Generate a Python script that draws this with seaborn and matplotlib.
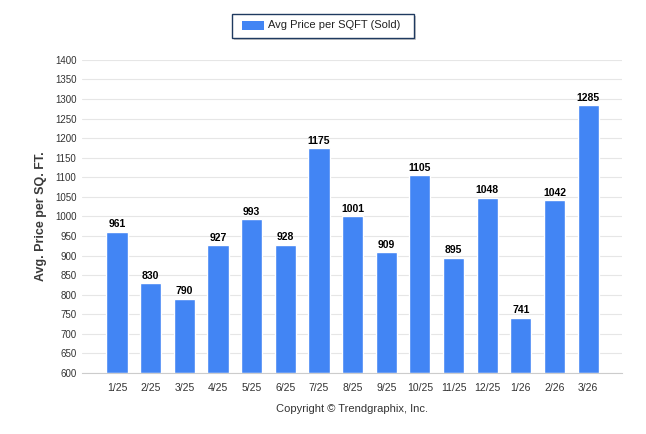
import matplotlib
matplotlib.use("Agg")
import matplotlib.pyplot as plt
import seaborn as sns
import pandas as pd
from matplotlib.patches import Rectangle

months = ["1/25", "2/25", "3/25", "4/25", "5/25", "6/25", "7/25", "8/25",
          "9/25", "10/25", "11/25", "12/25", "1/26", "2/26", "3/26"]
avg_price = [961, 830, 790, 927, 993, 928, 1175, 1001, 909, 1105, 895, 1048, 741, 1042, 1285]
y_ticks = list(range(600, 1401, 50))
series_name = "Avg Price per SQFT (Sold)"

sns.set_theme(style="white")
plt.rcParams['font.family'] = ['Liberation Sans', 'DejaVu Sans']

df = pd.DataFrame({"Month": months, "Price": avg_price})
base = 600

fig = plt.figure(figsize=(6.46, 4.34), dpi=100)
ax = fig.add_axes([0.127, 0.1406, 0.836, 0.7214])

sns.barplot(data=df, x="Month", y=[p - base for p in avg_price], color="#4285F4",
            width=0.63, saturation=1, ax=ax, bottom=base)

ax.set_ylim(600, 1400)
ax.set_xlim(-1.04, 15.01)
ax.set_yticks(y_ticks)
ax.set_yticklabels([str(t) for t in y_ticks], fontsize=7, color="#333333")
ax.tick_params(axis="x", labelsize=7.5, colors="#333333", length=4, color="#cccccc", width=0.8)
ax.tick_params(axis="y", length=0, pad=4)
ax.set_xticks(range(len(months)))
ax.set_xticklabels(months)
ax.yaxis.grid(True, color="#e6e6e6", linewidth=0.8)
ax.set_axisbelow(True)
for s in ["top", "right", "left"]:
    ax.spines[s].set_visible(False)
ax.spines["bottom"].set_color("#cccccc")
ax.spines["bottom"].set_linewidth(0.8)
ax.set_xlabel("")
ax.set_ylabel("Avg. Price per SQ. FT.", fontsize=9, fontweight="bold", color="#3a3a3a", labelpad=6)

for i, v in enumerate(avg_price):
    ax.text(i, v + 6, str(v), ha="center", va="bottom", fontsize=7.5, fontweight="bold", color="#000000")

# legend box
shadow = Rectangle((234 / 646, 1 - 40 / 434), 182 / 646, 24 / 434, transform=fig.transFigure,
                   facecolor="#999999", edgecolor="none", alpha=0.5)
box = Rectangle((232 / 646, 1 - 38 / 434), 182 / 646, 24 / 434, transform=fig.transFigure,
                facecolor="white", edgecolor="#1f3a60", linewidth=1)
fig.patches.extend([shadow, box])
fig.patches.append(Rectangle((242 / 646, 1 - 30 / 434), 22 / 646, 9 / 434, transform=fig.transFigure,
                             facecolor="#4285F4", edgecolor="none"))
fig.text(268 / 646, 1 - 25.5 / 434, series_name, fontsize=8, color="#222222", va="center", ha="left")

fig.text(352 / 646, 1 - 409 / 434, "Copyright © Trendgraphix, Inc.", fontsize=8, color="#333333",
         ha="center", va="center")

fig.savefig("out.png", dpi=100)
